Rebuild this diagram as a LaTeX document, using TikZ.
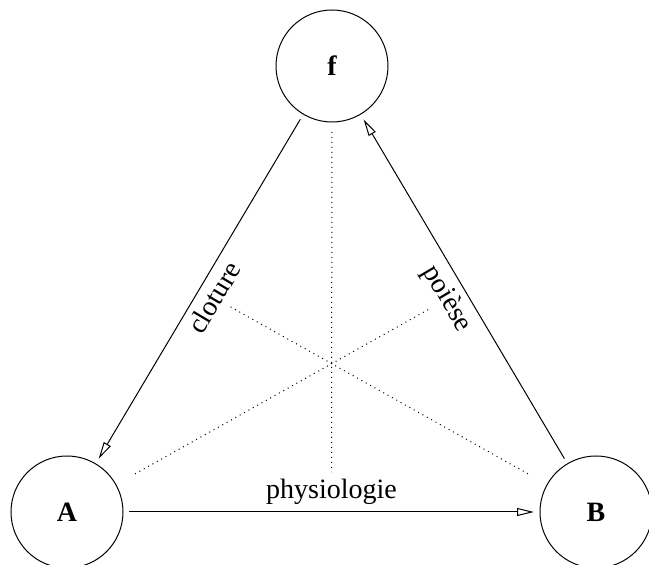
\documentclass[tikz,border=0pt]{standalone}
\usepackage{fontspec}
\setmainfont{Liberation Serif}
\usetikzlibrary{arrows.meta}
\tikzset{
  pole/.style={draw,circle,line width=0.5pt,minimum size=56pt,inner sep=0pt,outer sep=3pt,font=\fontsize{14}{17}\selectfont\bfseries},
  fleche/.style={draw,line width=0.5pt,-{Triangle[open,length=8.5pt,width=4pt]}},
  pointille/.style={draw,line width=0.5pt,dash pattern=on 0.5pt off 2pt},
  etiq/.style={font=\fontsize{14}{17}\selectfont}
}
\begin{document}
\begin{tikzpicture}[x=0.5pt,y=-0.5pt]
  \useasboundingbox (0,0) rectangle (649,565);
  \node[pole] (f) at (332,66) {f};
  \node[pole] (A) at (67,512) {A};
  \node[pole] (B) at (596,512) {B};
  \draw[fleche] (f) -- (A) node[midway,sloped,below,etiq] (clot) {cloture};
  \draw[fleche] (A) -- (B) node[midway,above,etiq] (phys) {physiologie};
  \draw[fleche] (B) -- (f) node[midway,sloped,below,etiq] (poie) {poi\`ese};
  % pointilles vers les etiquettes
  \draw[pointille,shorten <=2pt] (f) -- (phys);
  \draw[pointille,shorten <=8pt] (A) -- (poie);
  \draw[pointille,shorten <=8pt] (B) -- (clot);
\end{tikzpicture}
\end{document}
